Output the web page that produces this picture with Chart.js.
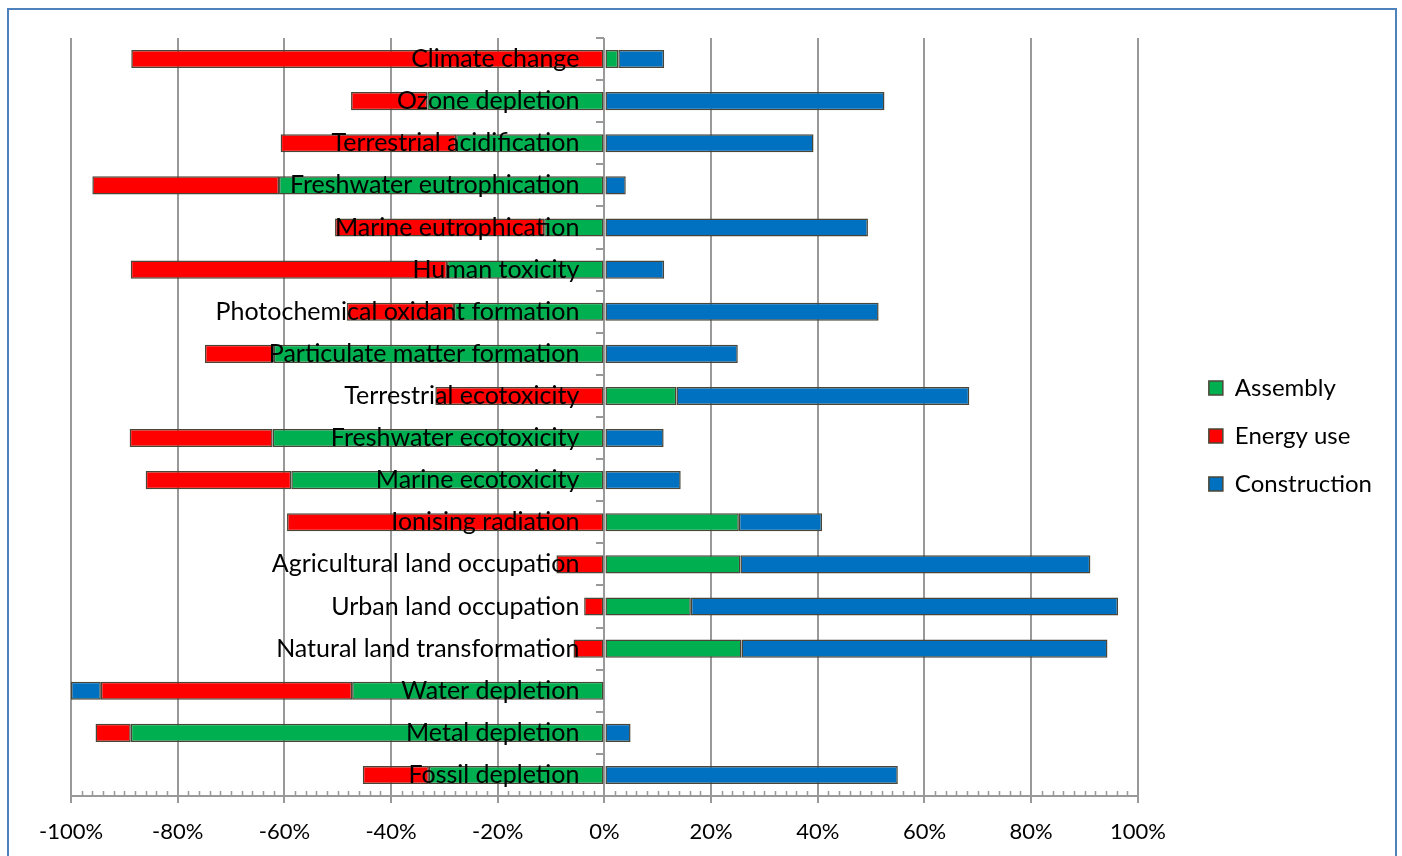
<!DOCTYPE html>
<html>
<head>
<meta charset="utf-8">
<script src="https://cdn.jsdelivr.net/npm/chart.js@4.4.1/dist/chart.umd.min.js"></script>
<style>
  html, body { margin: 0; padding: 0; background: #fff; overflow: hidden; }
  #wrap { position: absolute; left: 0; top: 0; width: 1402px; height: 856px; }
  #frame { position: absolute; left: 7px; top: 8px; width: 1386px; height: 900px; border: 2px solid #4f81bd; pointer-events: none; }
</style>
</head>
<body>
<div id="wrap"><canvas id="impactChart"></canvas></div>
<div id="frame"></div>
<script>
const categories = [
    "Climate change", "Ozone depletion", "Terrestrial acidification",
    "Freshwater eutrophication", "Marine eutrophication", "Human toxicity",
    "Photochemical oxidant formation", "Particulate matter formation",
    "Terrestrial ecotoxicity", "Freshwater ecotoxicity", "Marine ecotoxicity",
    "Ionising radiation", "Agricultural land occupation", "Urban land occupation",
    "Natural land transformation", "Water depletion", "Metal depletion",
    "Fossil depletion"
];

// contribution of each life cycle stage, in percent
const assembly = [2.6, -33.2, -27.8, -61.0, -11.3, -29.5, -28.2, -62.0, 13.5, -62.2,
    -58.7, 25.2, 25.5, 16.2, 25.7, -47.3, -88.8, -32.9];
const energyUse = [-88.7, -14.3, -32.9, -35.0, -39.2, -59.3, -20.1, -12.9, -31.7, -26.8,
    -27.3, -59.5, -9.0, -3.8, -5.8, -47.1, -6.6, -12.4];
const construction = [8.6, 52.5, 39.2, 4.0, 49.4, 11.2, 51.4, 25.0, 54.9, 11.1,
    14.3, 15.6, 65.6, 80.1, 68.6, -5.6, 4.9, 55.0];

const xTickValues = [-100, -80, -60, -40, -20, 0, 20, 40, 60, 80, 100];

// category names sit a little left of the 0% line (in % units)
const labelGap = -4.7;

const gridGray = "#999999";

Chart.defaults.font.family = "Lato, 'Open Sans', sans-serif";
Chart.defaults.font.size = 24;
Chart.defaults.color = "#000";

// small ticks every 2% along the bottom axis
const minorTicks = {
    id: "minorTicks",
    afterDatasetsDraw(chart) {
        const xScale = chart.scales.x;
        const ctx = chart.ctx;
        const base = chart.chartArea.bottom;
        ctx.save();
        ctx.strokeStyle = gridGray;
        ctx.lineWidth = 1.5;
        ctx.beginPath();
        for (let v = xScale.min; v <= xScale.max; v += 2) {
            if (xTickValues.includes(v)) continue;
            const px = Math.round(xScale.getPixelForValue(v)) + 0.5;
            ctx.moveTo(px, base);
            ctx.lineTo(px, base - 5);
        }
        ctx.stroke();
        ctx.restore();
    }
};

const ctx = document.getElementById("impactChart");
new Chart(ctx, {
    type: "bar",
    data: {
        labels: categories,
        datasets: [
            { label: "Assembly", data: assembly, backgroundColor: "#00b050" },
            { label: "Energy use", data: energyUse, backgroundColor: "#ff0000" },
            { label: "Construction", data: construction, backgroundColor: "#0070c0" }
        ]
    },
    options: {
        indexAxis: "y",
        responsive: true,
        maintainAspectRatio: false,
        animation: false,
        layout: {
            padding: { left: 71, top: 16, right: 20, bottom: 0 }
        },
        datasets: {
            bar: {
                xAxisID: "x",
                yAxisID: "y",
                borderColor: "#4a4637",
                borderWidth: 1.5,
                borderSkipped: false,
                categoryPercentage: 1,
                barPercentage: 0.43
            }
        },
        scales: {
            x: {
                stacked: true,
                min: -100,
                max: 100,
                afterBuildTicks: axis => {
                    axis.ticks = xTickValues.map(v => ({ value: v }));
                },
                afterFit: axis => { axis.height = 60; },
                ticks: {
                    padding: 16,
                    font: { size: 22 },
                    callback: v => v + "%"
                },
                grid: { color: gridGray, lineWidth: 2, tickLength: 7 },
                border: { color: gridGray, width: 2 }
            },
            // empty strip above the plot
            topGap: {
                type: "category",
                axis: "x",
                position: "top",
                display: false,
                afterFit: scale => { scale.height = 22; }
            },
            y: {
                stacked: true,
                position: { x: labelGap },
                ticks: { z: 1, autoSkip: false, font: { size: 25 } },
                grid: { display: false },
                border: { display: false }
            },
            // short marks between categories on the 0% line
            yTicks: {
                type: "category",
                axis: "y",
                position: { x: 0 },
                ticks: { display: false },
                grid: {
                    offset: true,
                    drawOnChartArea: false,
                    tickLength: 8,
                    color: gridGray,
                    lineWidth: 2
                },
                border: { display: false }
            },
            // empty strip between the plot and the legend
            gap: {
                type: "category",
                axis: "y",
                position: "right",
                display: false,
                afterFit: scale => { scale.width = 47; }
            }
        },
        plugins: {
            legend: {
                position: "right",
                align: "center",
                labels: { boxWidth: 14, boxHeight: 14, padding: 24 }
            },
            tooltip: { enabled: false }
        }
    },
    plugins: [minorTicks]
});
</script>
</body>
</html>
